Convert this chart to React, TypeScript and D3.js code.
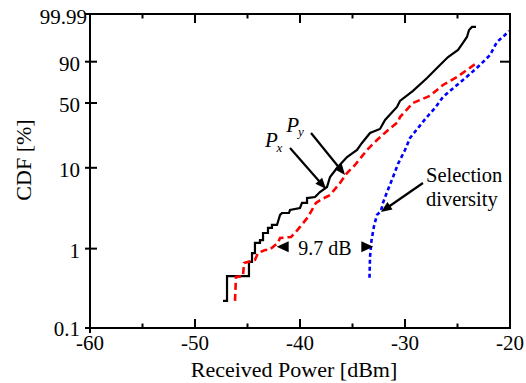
import React from "react";
import * as d3 from "d3";

// ---- data (Received power in dBm, CDF in %) ----
const pxCurve: [number, number][] = [
  [-47.33, 0.22], [-46.95, 0.22], [-46.95, 0.45], [-44.86, 0.45], [-44.86, 0.68],
  [-44.57, 0.68], [-44.57, 0.88], [-44.29, 0.88], [-44.29, 1.18], [-43.81, 1.18],
  [-43.81, 1.28], [-43.52, 1.28], [-43.52, 1.57], [-43.05, 1.57], [-43.05, 1.82],
  [-42.67, 1.82], [-42.67, 1.98], [-42.19, 1.98], [-41.9, 2.64], [-41.71, 2.79],
  [-41.05, 2.79], [-40.95, 3.04], [-40.0, 3.22], [-39.81, 3.72], [-39.33, 3.72],
  [-39.33, 4.28], [-38.57, 4.41], [-38.1, 5.08], [-37.43, 5.85], [-37.14, 7.75],
  [-36.48, 9.94], [-35.52, 13.43], [-34.57, 16.21], [-34.1, 19.49], [-33.33, 25.16],
  [-32.38, 27.8], [-31.9, 34.49], [-30.76, 46.05], [-30.48, 52.04], [-29.24, 62.78],
  [-27.9, 76.16], [-26.86, 86.12], [-25.9, 92.87], [-24.95, 96.07], [-24.48, 98.11],
  [-24.1, 99.11], [-23.9, 99.69], [-23.62, 99.82], [-23.24, 99.82],
];

const pyCurve: [number, number][] = [
  [-46.19, 0.22], [-46.1, 0.44], [-45.43, 0.45], [-45.33, 0.66], [-44.29, 0.72],
  [-44.0, 0.88], [-43.33, 0.96], [-42.95, 0.96], [-42.1, 1.18], [-41.9, 1.36],
  [-40.86, 1.4], [-40.48, 1.57], [-40.0, 1.87], [-39.24, 2.49], [-38.48, 3.72],
  [-37.9, 4.16], [-37.14, 4.66], [-36.19, 6.55], [-35.52, 8.66], [-34.76, 10.8],
  [-33.62, 16.21], [-32.67, 21.05], [-31.71, 26.45], [-30.67, 32.9], [-30.48, 36.96],
  [-29.24, 50.0], [-27.62, 57.46], [-26.38, 68.96], [-25.05, 77.16], [-24.1, 83.62],
  [-23.05, 89.81],
];

const sdCurve: [number, number][] = [
  [-33.38, 0.43], [-33.33, 0.79], [-33.19, 1.28], [-32.95, 1.92], [-32.67, 2.64],
  [-32.29, 2.96], [-32.1, 3.72], [-31.71, 5.08], [-31.14, 7.75], [-30.67, 11.1],
  [-30.0, 16.21], [-29.52, 22.17], [-28.76, 28.48], [-28.0, 36.12], [-27.14, 45.1],
  [-26.38, 56.2], [-25.71, 62.78], [-24.48, 74.16], [-23.81, 80.03], [-22.86, 87.67],
  [-21.9, 93.91], [-21.24, 98.32], [-20.48, 99.33], [-20.1, 99.64],
];

const xTicks = [-60, -50, -40, -30, -20];
const xMinorTicks = [-55, -45, -35, -25];
const yTicks = [0.1, 1, 10, 50, 90, 99.99];
const yTickLabels = ["0.1", "1", "10", "50", "90", "99.99"];
const rightTicks = [90];

// annotations (data units)
const pxArrow = { from: [-40.95, 17.09], to: [-37.52, 5.53] };
const pyArrow = { from: [-38.95, 25.16], to: [-35.71, 8.19] };
const sdArrow = { from: [-28.29, 6.55], to: [-32.29, 2.87] };
const gapArrow = { left: -42.22, right: -33.02, level: 1.057, label: "9.7 dB" };
const sdLabel = ["Selection", "diversity"];

const W = 526, H = 383;
const L = 90, R = 510, T = 14, B = 328;

const tr = (p: number) => Math.log10(-Math.log(1 - p / 100));

export default function App() {
  const x = d3.scaleLinear().domain([-60, -20]).range([L, R]);
  const yl = d3.scaleLinear().domain([tr(0.1), tr(99.99)]).range([B, T]);
  const y = (p: number) => yl(tr(p));
  const line = d3.line<[number, number]>().x(d => x(d[0])).y(d => y(d[1]));
  const font = "'Liberation Serif', 'Times New Roman', serif";

  const arrowHead = (x1: number, y1: number, x2: number, y2: number, len = 11, hw = 4.5) => {
    const a = Math.atan2(y2 - y1, x2 - x1);
    const bx = x2 - len * Math.cos(a), by = y2 - len * Math.sin(a);
    const nx = -Math.sin(a) * hw, ny = Math.cos(a) * hw;
    return `M${x2},${y2}L${bx + nx},${by + ny}L${bx - nx},${by - ny}Z`;
  };

  const arrow = (a: { from: number[]; to: number[] }, key: string) => {
    const x1 = x(a.from[0]), y1 = y(a.from[1]), x2 = x(a.to[0]), y2 = y(a.to[1]);
    const ang = Math.atan2(y2 - y1, x2 - x1);
    return (
      <g key={key}>
        <line x1={x1} y1={y1} x2={x2 - 8 * Math.cos(ang)} y2={y2 - 8 * Math.sin(ang)} stroke="#000" strokeWidth={2.2} />
        <path d={arrowHead(x1, y1, x2, y2)} fill="#000" />
      </g>
    );
  };

  const gy = y(gapArrow.level);
  const gl = x(gapArrow.left), gr = x(gapArrow.right);

  return (
    <svg width={W} height={H} style={{ position: "absolute", left: 0, top: 0, background: "#fff" }} fontFamily={font}>
      <rect width={W} height={H} fill="#fff" />
      {/* curves */}
      <path d={line(pxCurve) || ""} fill="none" stroke="#000" strokeWidth={2.2} />
      <path d={line(pyCurve) || ""} fill="none" stroke="#ff0000" strokeWidth={2.6} strokeDasharray="7,4" />
      <path d={line(sdCurve) || ""} fill="none" stroke="#0000ff" strokeWidth={2.6} strokeDasharray="4,3" />

      {/* axes box */}
      <path d={`M${L},${T}H${R}V${B}H${L}Z`} fill="none" stroke="#000" strokeWidth={2} />
      <line x1={L} x2={L} y1={B} y2={B + 5} stroke="#000" strokeWidth={2} />
      {xTicks.map(t => (
        <g key={"xt" + t}>
          <line x1={x(t)} x2={x(t)} y1={B} y2={B - 9} stroke="#000" strokeWidth={2} />
          <line x1={x(t)} x2={x(t)} y1={T} y2={T + 9} stroke="#000" strokeWidth={2} />
          <text x={x(t)} y={350} textAnchor="middle" fontSize={21}>{t}</text>
        </g>
      ))}
      {xMinorTicks.map(t => (
        <g key={"xm" + t}>
          <line x1={x(t)} x2={x(t)} y1={B} y2={B - 4.5} stroke="#000" strokeWidth={2} />
          <line x1={x(t)} x2={x(t)} y1={T} y2={T + 4.5} stroke="#000" strokeWidth={2} />
        </g>
      ))}
      {yTicks.map((t, i) => (
        <g key={"yt" + t}>
          <line x1={L - 5} x2={L + 7} y1={y(t)} y2={y(t)} stroke="#000" strokeWidth={2} />
          <text x={t === 99.99 ? 87 : 80} y={y(t) + (t === 0.1 ? 8 : 9.5)} textAnchor="end" fontSize={21}>{yTickLabels[i]}</text>
        </g>
      ))}
      {rightTicks.map(t => (
        <line key={"rt" + t} x1={R - 10} x2={R} y1={y(t)} y2={y(t)} stroke="#000" strokeWidth={2} />
      ))}

      {/* axis titles */}
      <text x={294} y={377} textAnchor="middle" fontSize={22}>Received Power [dBm]</text>
      <text transform={`translate(31,160) rotate(-90)`} textAnchor="middle" fontSize={22}>CDF [%]</text>

      {/* annotations */}
      {arrow(pxArrow, "pxa")}
      {arrow(pyArrow, "pya")}
      {arrow(sdArrow, "sda")}
      <text x={x(-43.33)} y={y(17.68)} fontSize={21} fontStyle="italic">P</text>
      <text x={x(-42.25)} y={y(15.49)} fontSize={13} fontStyle="italic">x</text>
      <text x={x(-41.3)} y={y(25.99)} fontSize={21} fontStyle="italic">P</text>
      <text x={x(-40.2)} y={y(23.2)} fontSize={13} fontStyle="italic">y</text>
      <text x={x(-28.0)} y={y(6.735)} fontSize={20.5}>{sdLabel[0]}</text>
      <text x={x(-28.0)} y={y(3.41)} fontSize={20.5}>{sdLabel[1]}</text>

      <path d={arrowHead(gl + 12, gy, gl, gy, 12, 5.5)} fill="#000" />
      <path d={arrowHead(gr - 12, gy, gr, gy, 12, 5.5)} fill="#000" />
      <text x={(gl + gr) / 2} y={gy + 8} textAnchor="middle" fontSize={20}>{gapArrow.label}</text>
    </svg>
  );
}
